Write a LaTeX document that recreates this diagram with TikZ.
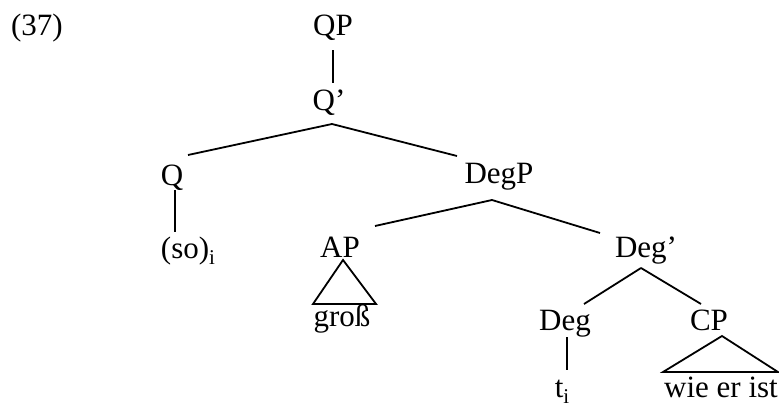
\documentclass[tikz,border=0pt]{standalone}
\usepackage{fontspec}
\setmainfont{Liberation Serif}
\newcommand\subidx{\raisebox{-0.2em}{\fontsize{21}{21}\selectfont i}}
\begin{document}
\begin{tikzpicture}[x=1pt,y=-1pt,
  lab/.style={anchor=base,inner sep=0pt,font=\fontsize{31}{37}\selectfont},
  edge/.style={line width=1.8pt},
  tri/.style={line width=1.8pt,line join=miter}]
\useasboundingbox (0,0) rectangle (779,407);
% nodes
\node[lab] (ex) at (37,35) {(37)};
\node[lab] (QP) at (333,35) {QP};
\node[lab] (Qbar) at (329,110) {Q’};
\node[lab] (Q) at (172,185) {Q};
\node[lab] (DegP) at (499,183) {DegP};
\node[lab] (so) at (188,258) {(so)\subidx};
\node[lab] (AP) at (340,257) {AP};
\node[lab] (gross) at (342,326) {groß};
\node[lab] (Degbar) at (646,257) {Deg’};
\node[lab] (Deg) at (565,330) {Deg};
\node[lab] (CP) at (709,330) {CP};
\node[lab] (ti) at (562,397) {t\subidx};
\node[lab] (wie) at (721,397) {wie er ist};
% connector end points
\coordinate (QPb) at (333,50);
\coordinate (Qbart) at (333,83);
\coordinate (Qbarb) at (332,124);
\coordinate (Qt) at (188,155);
\coordinate (DegPt) at (457,156);
\coordinate (Qb) at (175,190);
\coordinate (sot) at (175,232);
\coordinate (DegPb) at (492,200);
\coordinate (APt) at (375,226);
\coordinate (Degbart) at (600,233);
\coordinate (Degbarb) at (641,268);
\coordinate (Degt) at (584,304);
\coordinate (CPt) at (701,304);
\coordinate (Degb) at (567,337);
\coordinate (tit) at (567,370);
\coordinate (APa) at (343,260);
\coordinate (APl) at (313,304);
\coordinate (APr) at (376,304);
\coordinate (CPa) at (722,336);
\coordinate (CPl) at (663,372);
\coordinate (CPr) at (778,372);
% edges
\draw[edge] (QPb) -- (Qbart);
\draw[edge] (Qbarb) -- (Qt);
\draw[edge] (Qbarb) -- (DegPt);
\draw[edge] (Qb) -- (sot);
\draw[edge] (DegPb) -- (APt);
\draw[edge] (DegPb) -- (Degbart);
\draw[edge] (Degbarb) -- (Degt);
\draw[edge] (Degbarb) -- (CPt);
\draw[edge] (Degb) -- (tit);
\draw[tri] (APa) -- (APl) -- (APr) -- cycle;
\draw[tri] (CPa) -- (CPl) -- (CPr) -- cycle;
\end{tikzpicture}
\end{document}
